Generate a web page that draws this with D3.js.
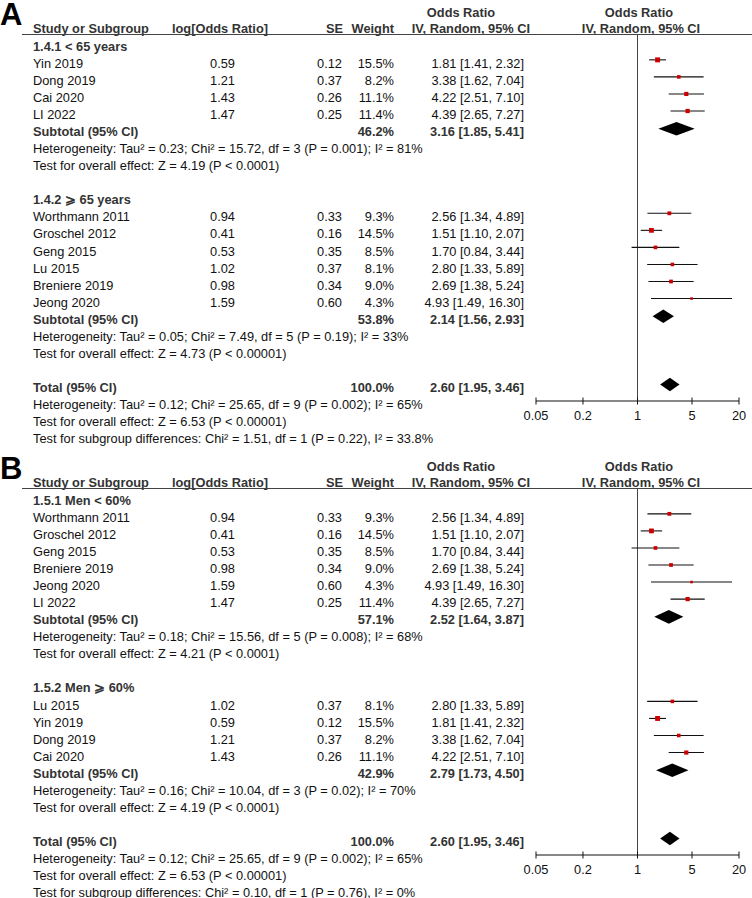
<!DOCTYPE html>
<html><head><meta charset="utf-8">
<script src="https://cdn.jsdelivr.net/npm/d3@7/dist/d3.min.js"></script>
<style>
body{margin:0;background:#fff;}
text{font-family:"Liberation Sans",Arial,sans-serif;}
</style></head>
<body><svg id="c" width="752" height="898"></svg>
<script>
// ---------- DATA ----------
const axisTicks = [0.05, 0.2, 1, 5, 20];
const headers = ["Study or Subgroup", "log[Odds Ratio]", "SE", "Weight", "Odds Ratio", "IV, Random, 95% CI"];

// Panel A, subgroup 1.4.1
const a1Title = "1.4.1 < 65 years";
const a1Names = ["Yin 2019", "Dong 2019", "Cai 2020", "LI 2022"];
const a1LogOR = ["0.59", "1.21", "1.43", "1.47"];
const a1SE = ["0.12", "0.37", "0.26", "0.25"];
const a1Weight = [15.5, 8.2, 11.1, 11.4];
const a1OR = [1.81, 3.38, 4.22, 4.39];
const a1Lo = [1.41, 1.62, 2.51, 2.65];
const a1Hi = [2.32, 7.04, 7.10, 7.27];
const a1Sub = {w: 46.2, or: 3.16, lo: 1.85, hi: 5.41,
  het: "Heterogeneity: Tau² = 0.23; Chi² = 15.72, df = 3 (P = 0.001); I² = 81%",
  z: "Test for overall effect: Z = 4.19 (P < 0.0001)"};

// Panel A, subgroup 1.4.2
const a2Title = "1.4.2 ⩾ 65 years";
const a2Names = ["Worthmann 2011", "Groschel 2012", "Geng 2015", "Lu 2015", "Breniere 2019", "Jeong 2020"];
const a2LogOR = ["0.94", "0.41", "0.53", "1.02", "0.98", "1.59"];
const a2SE = ["0.33", "0.16", "0.35", "0.37", "0.34", "0.60"];
const a2Weight = [9.3, 14.5, 8.5, 8.1, 9.0, 4.3];
const a2OR = [2.56, 1.51, 1.70, 2.80, 2.69, 4.93];
const a2Lo = [1.34, 1.10, 0.84, 1.33, 1.38, 1.49];
const a2Hi = [4.89, 2.07, 3.44, 5.89, 5.24, 16.30];
const a2Sub = {w: 53.8, or: 2.14, lo: 1.56, hi: 2.93,
  het: "Heterogeneity: Tau² = 0.05; Chi² = 7.49, df = 5 (P = 0.19); I² = 33%",
  z: "Test for overall effect: Z = 4.73 (P < 0.00001)"};
const aTotal = {w: 100.0, or: 2.60, lo: 1.95, hi: 3.46,
  het: "Heterogeneity: Tau² = 0.12; Chi² = 25.65, df = 9 (P = 0.002); I² = 65%",
  z: "Test for overall effect: Z = 6.53 (P < 0.00001)",
  sub: "Test for subgroup differences: Chi² = 1.51, df = 1 (P = 0.22), I² = 33.8%"};

// Panel B, subgroup 1.5.1
const b1Title = "1.5.1 Men < 60%";
const b1Names = ["Worthmann 2011", "Groschel 2012", "Geng 2015", "Breniere 2019", "Jeong 2020", "LI 2022"];
const b1LogOR = ["0.94", "0.41", "0.53", "0.98", "1.59", "1.47"];
const b1SE = ["0.33", "0.16", "0.35", "0.34", "0.60", "0.25"];
const b1Weight = [9.3, 14.5, 8.5, 9.0, 4.3, 11.4];
const b1OR = [2.56, 1.51, 1.70, 2.69, 4.93, 4.39];
const b1Lo = [1.34, 1.10, 0.84, 1.38, 1.49, 2.65];
const b1Hi = [4.89, 2.07, 3.44, 5.24, 16.30, 7.27];
const b1Sub = {w: 57.1, or: 2.52, lo: 1.64, hi: 3.87,
  het: "Heterogeneity: Tau² = 0.18; Chi² = 15.56, df = 5 (P = 0.008); I² = 68%",
  z: "Test for overall effect: Z = 4.21 (P < 0.0001)"};

// Panel B, subgroup 1.5.2
const b2Title = "1.5.2 Men ⩾ 60%";
const b2Names = ["Lu 2015", "Yin 2019", "Dong 2019", "Cai 2020"];
const b2LogOR = ["1.02", "0.59", "1.21", "1.43"];
const b2SE = ["0.37", "0.12", "0.37", "0.26"];
const b2Weight = [8.1, 15.5, 8.2, 11.1];
const b2OR = [2.80, 1.81, 3.38, 4.22];
const b2Lo = [1.33, 1.41, 1.62, 2.51];
const b2Hi = [5.89, 2.32, 7.04, 7.10];
const b2Sub = {w: 42.9, or: 2.79, lo: 1.73, hi: 4.50,
  het: "Heterogeneity: Tau² = 0.16; Chi² = 10.04, df = 3 (P = 0.02); I² = 70%",
  z: "Test for overall effect: Z = 4.19 (P < 0.0001)"};
const bTotal = {w: 100.0, or: 2.60, lo: 1.95, hi: 3.46,
  het: "Heterogeneity: Tau² = 0.12; Chi² = 25.65, df = 9 (P = 0.002); I² = 65%",
  z: "Test for overall effect: Z = 6.53 (P < 0.00001)",
  sub: "Test for subgroup differences: Chi² = 0.10, df = 1 (P = 0.76), I² = 0%"};

function group(title, names, logor, se, w, or, lo, hi, sub) {
  return {title, studies: names.map((n, i) => ({name: n, logor: logor[i], se: se[i], w: w[i], or: or[i], lo: lo[i], hi: hi[i]})), sub};
}
const panels = [
  {label: "A", dy: 0, groups: [group(a1Title, a1Names, a1LogOR, a1SE, a1Weight, a1OR, a1Lo, a1Hi, a1Sub),
                               group(a2Title, a2Names, a2LogOR, a2SE, a2Weight, a2OR, a2Lo, a2Hi, a2Sub)], total: aTotal},
  {label: "B", dy: 454, groups: [group(b1Title, b1Names, b1LogOR, b1SE, b1Weight, b1OR, b1Lo, b1Hi, b1Sub),
                                 group(b2Title, b2Names, b2LogOR, b2SE, b2Weight, b2OR, b2Lo, b2Hi, b2Sub)], total: bTotal}
];

// ---------- DRAW ----------
const svg = d3.select("#c");
const x = d3.scaleLog().domain([0.05, 20]).range([536, 739]);
const FS = 12.8;
const txt = "#111", hdr = "#333";
const f2 = d => d.toFixed(2);
const ci = (o, l, h) => `${f2(o)} [${f2(l)}, ${f2(h)}]`;

panels.forEach(p => {
  const g = svg.append("g").attr("transform", `translate(0,${p.dy})`);
  const y = d3.scaleLinear().domain([0, 23]).range([46.3, 46.3 + 23 * 17.05]);
  const TA = (xx, yy, s, opt = {}) => g.append("text").attr("x", xx).attr("y", yy)
      .attr("font-size", opt.fs || FS).attr("font-weight", opt.bold ? "bold" : null)
      .attr("text-anchor", opt.anchor || "start").attr("fill", opt.fill || txt).text(s);
  const T = (xx, row, s, opt) => TA(xx, y(row) + 4.6, s, opt);

  // panel label
  g.append("text").attr("x", 0).attr("y", 25).attr("font-size", 31).attr("font-weight", "bold").attr("fill", "#000").text(p.label);
  // headers
  const h1 = 16.6, h2 = 33.4;
  TA(461, h1, headers[4], {bold: true, anchor: "middle", fill: hdr});
  TA(639, h1, headers[4], {bold: true, anchor: "middle", fill: hdr});
  TA(33, h2, headers[0], {bold: true, fill: hdr});
  TA(172, h2, headers[1], {bold: true, fill: hdr});
  TA(343, h2, headers[2], {bold: true, anchor: "end", fill: hdr});
  TA(394, h2, headers[3], {bold: true, anchor: "end", fill: hdr});
  TA(530, h2, headers[5], {bold: true, anchor: "end", fill: hdr});
  TA(641, h2, headers[5], {bold: true, anchor: "middle", fill: hdr});
  g.append("line").attr("x1", 22).attr("x2", 752).attr("y1", 34.5).attr("y2", 34.5).attr("stroke", "#444").attr("stroke-width", 1);

  // null line
  g.append("line").attr("x1", x(1)).attr("x2", x(1)).attr("y1", 34.5).attr("y2", 401).attr("stroke", "#444").attr("stroke-width", 1);

  const diamond = (row, o, l, h) => {
    const cy = y(row) - 2.8, hh = 6.8;
    g.append("path").attr("d", `M${x(l)},${cy}L${x(o)},${cy - hh}L${x(h)},${cy}L${x(o)},${cy + hh}Z`).attr("fill", "#000");
  };

  let r = 0;
  p.groups.forEach(gr => {
    T(33, r, gr.title, {bold: true, fill: hdr});
    r++;
    gr.studies.forEach(s => {
      T(33, r, s.name);
      T(235, r, s.logor, {anchor: "end"});
      T(342, r, s.se, {anchor: "end"});
      T(394, r, s.w.toFixed(1) + "%", {anchor: "end"});
      T(524, r, ci(s.or, s.lo, s.hi), {anchor: "end"});
      const cy = y(r) - 3.5;
      g.append("line").attr("x1", x(Math.max(s.lo, 0.05))).attr("x2", x(Math.min(s.hi, 20))).attr("y1", cy).attr("y2", cy)
        .attr("stroke", "#111").attr("stroke-width", 1.1);
      const side = 1.25 * Math.sqrt(s.w);
      g.append("rect").attr("x", x(s.or) - side / 2).attr("y", cy - side / 2).attr("width", side).attr("height", side).attr("fill", "#cc0000");
      r++;
    });
    T(33, r, "Subtotal (95% CI)", {bold: true, fill: hdr});
    T(394, r, gr.sub.w.toFixed(1) + "%", {bold: true, anchor: "end", fill: hdr});
    T(524, r, ci(gr.sub.or, gr.sub.lo, gr.sub.hi), {bold: true, anchor: "end", fill: hdr});
    diamond(r, gr.sub.or, gr.sub.lo, gr.sub.hi);
    r++;
    T(33, r, gr.sub.het); r++;
    T(33, r, gr.sub.z); r++;
    r++;
  });
  const t = p.total;
  T(33, r, "Total (95% CI)", {bold: true, fill: hdr});
  T(394, r, t.w.toFixed(1) + "%", {bold: true, anchor: "end", fill: hdr});
  T(524, r, ci(t.or, t.lo, t.hi), {bold: true, anchor: "end", fill: hdr});
  diamond(r, t.or, t.lo, t.hi);
  r++;
  T(33, r, t.het); r++;
  T(33, r, t.z); r++;
  T(33, r, t.sub);

  // axis
  const ay = 401;
  g.append("line").attr("x1", x(0.05)).attr("x2", x(20)).attr("y1", ay).attr("y2", ay).attr("stroke", "#111");
  g.selectAll(null).data(axisTicks).enter().append("line")
    .attr("x1", d => x(d)).attr("x2", d => x(d)).attr("y1", ay - 3.5).attr("y2", ay + 3.5).attr("stroke", "#111");
  g.selectAll(null).data(axisTicks).enter().append("text")
    .attr("x", d => x(d)).attr("y", 419.8).attr("text-anchor", "middle").attr("font-size", FS).attr("fill", txt).text(d => d);
});
</script></body></html>
